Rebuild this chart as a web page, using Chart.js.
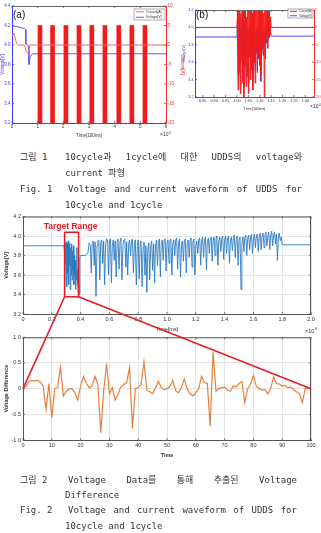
<!DOCTYPE html>
<html><head><meta charset="utf-8">
<script src="https://cdn.jsdelivr.net/npm/chart.js@4.4.0/dist/chart.umd.min.js"></script>
<style>
html,body{margin:0;padding:0;background:#fff;}
body{width:321px;height:533px;position:relative;overflow:hidden;}
canvas{position:absolute;}
.cap{position:absolute;font-family:"DejaVu Sans Mono","Noto Sans CJK KR",monospace;font-size:9px;color:#333;line-height:12px;height:12px;white-space:nowrap;}
.just{display:flex;justify-content:space-between;}
</style></head><body>
<canvas id="cA" width="185" height="140" style="left:0;top:0"></canvas>
<canvas id="cB" width="146" height="115" style="left:175px;top:0"></canvas>
<canvas id="cC" width="321" height="128" style="left:0;top:210px"></canvas>
<canvas id="cD" width="321" height="130" style="left:0;top:332px"></canvas>
<div id="caps"></div>
<canvas id="ov" width="321" height="533" style="left:0;top:0;pointer-events:none"></canvas>
<script>
// ---------------- DATA ----------------
// Fig.1 (a) : 10 cycles, time in x10^4 [100ms]
const voltATime = [0, 0.49, 0.53, 0.54, 0.64, 0.66, 0.71, 0.80, 6];
const voltAVal  = [4.20, 4.17, 4.16, 4.01, 3.99, 3.80, 3.88, 3.91, 3.91];
const curATime  = [0, 0.01, 0.07, 0.18, 0.24, 0.49, 0.55, 0.64, 0.67, 6];
const curAVal   = [2.3, 2.4, 3.0, 0.4, 0, 0, -1.7, -2.1, 0, 0];
const burstACenter = [1.09, 1.58, 2.10, 2.61, 3.11, 3.62, 4.16, 4.67, 5.18];
const burstARange  = [-20, 5];
const ticksAX = [0, 1, 2, 3, 4, 5, 6];

// Fig.1 (b) : 1 cycle
const ticksBX = [0.85, 0.9, 0.95, 1, 1.05, 1.1, 1.15, 1.2, 1.25, 1.3];
const baseBTime = [0.816, 1.0, 1.155, 1.338];
const baseBVolt = [3.89, 3.89, 3.90, 3.90];
const burstBStart = 1.0, burstBStep = 0.0025;
const burstBCur = [0, 5, -18, 5, -13, 5, -19, 4, -9, 5, -16, 5, -20, 5, -11, 5, -17, 3, -14, 5,
  -19, 5, -8, 5, -15, 5, -12, 4, -18, 5, -10, 5, -16, 5, -7, 5, -13, 5, -9, 5,
  -11, 5, -14, 5, -6, 5, -8, 4, -20, 5, -9, 5, -4, 5, -6, 5, -3, 5, -2, 3, 0];
const burstBVolt = [3.89, 4.1, 3.45, 4.05, 3.55, 4.12, 3.35, 3.98, 3.62, 4.08, 3.42, 3.95, 3.30, 4.02, 3.58, 3.97, 3.40, 3.92, 3.50, 4.0,
  3.36, 3.95, 3.66, 4.03, 3.48, 3.93, 3.55, 3.99, 3.40, 3.90, 3.60, 3.96, 3.50, 3.92, 3.70, 4.0, 3.56, 3.95, 3.65, 3.98,
  3.60, 3.94, 3.38, 3.90, 3.75, 3.97, 3.70, 3.95, 3.80, 4.0, 3.72, 3.96, 3.82, 3.98, 3.85, 4.0, 3.88, 3.97, 3.92, 3.95, 3.90];

// Fig.2 top : voltage vs time [ms] x10^4
const fig2Time = [
  0, 0.285, 0.290, 0.293, 0.296, 0.299, 0.302, 0.305, 0.308, 0.311,
  0.314, 0.317, 0.320, 0.323, 0.326, 0.329, 0.332, 0.335, 0.338, 0.341,
  0.344, 0.347, 0.350, 0.353, 0.356, 0.359, 0.362, 0.365, 0.368, 0.371,
  0.374, 0.377, 0.380, 0.383, 0.386, 0.390, 0.395, 0.400, 0.430, 0.440,
  0.450, 0.460, 0.468, 0.474, 0.480, 0.488, 0.495, 0.500, 0.507, 0.514,
  0.520, 0.527, 0.533, 0.540, 0.547, 0.553, 0.560, 0.567, 0.574, 0.580,
  0.587, 0.594, 0.600, 0.607, 0.614, 0.620, 0.627, 0.634, 0.640, 0.647,
  0.654, 0.660, 0.667, 0.674, 0.680, 0.687, 0.694, 0.700, 0.707, 0.714,
  0.720, 0.727, 0.734, 0.740, 0.747, 0.754, 0.760, 0.767, 0.774, 0.780,
  0.787, 0.794, 0.800, 0.807, 0.814, 0.820, 0.827, 0.834, 0.840, 0.847,
  0.854, 0.860, 0.867, 0.874, 0.880, 0.887, 0.894, 0.900, 0.907, 0.914,
  0.920, 0.927, 0.934, 0.940, 0.947, 0.954, 0.960, 0.967, 0.974, 0.980,
  0.987, 0.994, 1.000, 1.007, 1.014, 1.020, 1.027, 1.034, 1.040, 1.047,
  1.054, 1.060, 1.067, 1.074, 1.080, 1.087, 1.094, 1.100, 1.107, 1.114,
  1.120, 1.127, 1.134, 1.140, 1.147, 1.154, 1.160, 1.167, 1.174, 1.180,
  1.187, 1.194, 1.200, 1.207, 1.214, 1.220, 1.227, 1.234, 1.240, 1.247,
  1.254, 1.260, 1.267, 1.274, 1.280, 1.287, 1.294, 1.300, 1.307, 1.314,
  1.320, 1.327, 1.334, 1.340, 1.347, 1.354, 1.360, 1.367, 1.374, 1.380,
  1.387, 1.394, 1.400, 1.407, 1.414, 1.420, 1.427, 1.434, 1.440, 1.447,
  1.454, 1.460, 1.467, 1.474, 1.480, 1.487, 1.494, 1.500, 1.507, 1.514,
  1.520, 1.527, 1.534, 1.540, 1.547, 1.554, 1.560, 1.567, 1.574, 1.580,
  1.587, 1.594, 1.600, 1.607, 1.614, 1.620, 1.627, 1.634, 1.640, 1.647,
  1.654, 1.660, 1.667, 1.674, 1.680, 1.687, 1.694, 1.700, 1.707, 1.714,
  1.720, 1.727, 1.734, 1.740, 1.747, 1.754, 1.760, 1.767, 1.774, 1.780,
  1.787, 1.794, 1.800, 2.000];
const fig2Volt = [
  3.90, 3.90, 3.90, 3.72, 3.93, 3.55, 3.94, 3.48, 3.92, 3.62,
  3.95, 3.50, 3.90, 3.70, 3.93, 3.45, 3.88, 3.60, 3.92, 3.55,
  3.85, 3.65, 3.90, 3.50, 3.80, 3.60, 3.75, 3.45, 3.70, 3.55,
  3.88, 3.50, 3.65, 3.42, 3.60, 3.40, 3.78, 3.80, 3.80, 3.81,
  3.82, 3.93, 3.90, 3.62, 3.92, 3.95, 3.70, 3.94, 3.38, 3.90,
  3.95, 3.96, 3.55, 3.93, 3.96, 3.72, 3.95, 3.50, 3.92, 3.97,
  3.96, 3.60, 3.94, 3.97, 3.52, 3.90, 3.96, 3.75, 3.95, 3.58,
  3.93, 3.97, 3.66, 3.95, 3.98, 3.55, 3.90, 3.96, 3.97, 3.68,
  3.94, 3.60, 3.92, 3.96, 3.80, 3.95, 3.97, 3.62, 3.93, 3.96,
  3.50, 3.90, 3.96, 3.56, 3.92, 3.95, 3.48, 3.88, 3.94, 3.60,
  3.90, 3.42, 3.86, 3.93, 3.55, 3.90, 3.95, 3.65, 3.92, 3.52,
  3.90, 3.96, 3.70, 3.93, 3.97, 3.58, 3.92, 3.96, 3.75, 3.95,
  3.97, 3.64, 3.93, 3.96, 3.72, 3.95, 3.97, 3.60, 3.92, 3.96,
  3.80, 3.95, 3.98, 3.66, 3.93, 3.97, 3.58, 3.90, 3.95, 3.74,
  3.94, 3.97, 3.62, 3.92, 3.96, 3.78, 3.95, 3.98, 3.68, 3.94,
  3.97, 3.60, 3.90, 3.95, 3.82, 3.96, 3.98, 3.70, 3.95, 3.99,
  3.78, 3.96, 3.99, 3.65, 3.94, 3.98, 3.82, 3.96, 3.99, 3.74,
  3.95, 3.99, 3.80, 3.97, 4.00, 3.70, 3.95, 3.99, 3.84, 3.97,
  4.00, 3.76, 3.96, 4.00, 3.82, 3.97, 4.00, 3.72, 3.95, 3.99,
  3.85, 3.97, 4.01, 3.78, 3.96, 4.00, 3.70, 3.95, 3.99, 3.45,
  3.92, 3.99, 3.84, 3.98, 4.01, 3.80, 3.97, 4.01, 3.86, 3.98,
  4.02, 3.82, 3.97, 4.02, 3.88, 3.99, 4.02, 3.84, 3.98, 4.03,
  3.86, 3.99, 4.03, 3.88, 4.00, 4.04, 3.90, 4.00, 4.04, 3.86,
  4.00, 4.05, 3.90, 4.01, 4.04, 3.92, 4.02, 3.75, 4.00, 4.03,
  3.95, 3.99, 3.91, 3.91];
const targetX = [0.289, 0.386];
const targetY = [3.377, 4.038];

// Fig.2 bottom : voltage difference (100 samples)
const diffVal = [
  0.00, 0.04, 0.14, 0.16, 0.15, 0.16, 0.13, 0.05, -0.40, 0.10,
  -0.57, 0.00, 0.02, 0.42, -0.14, -0.05, -0.01, 0.00, -0.08, -0.22,
  0.05, 0.24, 0.10, 0.02, 0.05, 0.24, 0.08, -0.86, -0.05, 0.49,
  -0.10, 0.02, -0.22, -0.11, 0.04, 0.08, 0.12, 0.41, -0.78, 0.00,
  0.02, 0.08, 0.52, -0.03, -0.06, -0.10, 0.02, 0.14, 0.02, -0.02,
  0.00, 0.04, 0.16, -0.04, -0.08, 0.02, 0.19, 0.00, -0.10, -0.14,
  -0.08, 0.00, 0.24, 0.12, 0.10, -0.73, 0.71, -0.05, 0.00, 0.02,
  0.03, -0.03, -0.05, 0.05, 0.03, 0.10, 0.14, -0.27, 0.00, 0.08,
  0.26, 0.05, 0.00, -0.03, -0.02, -0.10, 0.00, 0.23, 0.10, 0.09,
  0.05, 0.06, 0.02, 0.03, -0.02, -0.06, -0.10, -0.27, 0.00, 0.00];

// ---------------- HELPERS ----------------
const FF = '"Liberation Sans", Arial, sans-serif';
Chart.defaults.font.family = FF;
Chart.defaults.animation = false;

const deco = {
  id: 'deco',
  afterDraw(chart, args, o) {
    const ctx = chart.ctx, a = chart.chartArea;
    ctx.save();
    if (o.box) {
      ctx.strokeStyle = o.box.color; ctx.lineWidth = 1;
      ctx.beginPath();
      if (o.box.top) { ctx.moveTo(a.left, a.top + 0.5); ctx.lineTo(a.right, a.top + 0.5); }
      if (o.box.right) { ctx.moveTo(a.right - 0.5, a.top); ctx.lineTo(a.right - 0.5, a.bottom); }
      ctx.stroke();
    }
    (o.inTicks || []).forEach(t => {
      const s = chart.scales[t.id];
      ctx.strokeStyle = t.color; ctx.lineWidth = 0.8;
      ctx.beginPath();
      s.ticks.forEach(tk => {
        const p = s.getPixelForValue(tk.value);
        t.sides.forEach(side => {
          if (side === 'bottom') { ctx.moveTo(p, a.bottom); ctx.lineTo(p, a.bottom - t.len); }
          if (side === 'top') { ctx.moveTo(p, a.top); ctx.lineTo(p, a.top + t.len); }
          if (side === 'left') { ctx.moveTo(a.left, p); ctx.lineTo(a.left + t.len, p); }
          if (side === 'right') { ctx.moveTo(a.right, p); ctx.lineTo(a.right - t.len, p); }
        });
      });
      ctx.stroke();
    });
    if (o.legend) {
      const L = o.legend;
      const x0 = a.right - L.w - L.dr, y0 = a.top + L.dt;
      ctx.fillStyle = '#fff'; ctx.fillRect(x0, y0, L.w, L.h);
      ctx.strokeStyle = '#777'; ctx.lineWidth = 0.6; ctx.strokeRect(x0, y0, L.w, L.h);
      const items = chart.data.datasets.filter(d => d.inLegend);
      items.forEach((d, i) => {
        const yy = y0 + L.h * (i + 0.5) / items.length;
        ctx.strokeStyle = d.borderColor; ctx.lineWidth = 1;
        ctx.beginPath(); ctx.moveTo(x0 + 2, yy); ctx.lineTo(x0 + 2 + L.line, yy); ctx.stroke();
        ctx.fillStyle = '#333'; ctx.font = L.size + 'px ' + FF; ctx.textBaseline = 'middle'; ctx.textAlign = 'left';
        ctx.fillText(d.label, x0 + 4 + L.line, yy);
      });
    }
    (o.texts || []).forEach(t => {
      ctx.fillStyle = t.color || '#111';
      ctx.font = (t.bold ? 'bold ' : '') + t.size + 'px ' + FF;
      ctx.textBaseline = 'middle'; ctx.textAlign = 'left';
      ctx.fillText(t.text, a.left + t.dx, a.top + t.dy);
    });
    if (o.exp) {
      const e = o.exp;
      ctx.fillStyle = '#333'; ctx.textBaseline = 'middle'; ctx.textAlign = 'left';
      ctx.font = e.size + 'px ' + FF;
      const x = a.right + e.dx, y = a.bottom + e.dy;
      ctx.fillText('\u00d710', x, y);
      const w = ctx.measureText('\u00d710').width;
      ctx.font = (e.size * 0.7) + 'px ' + FF;
      ctx.fillText('4', x + w + 0.3, y - e.size * 0.45);
    }
    if (o.target) {
      const sx = chart.scales.x, sy = chart.scales.y;
      const x0 = sx.getPixelForValue(o.target.x[0]), x1 = sx.getPixelForValue(o.target.x[1]);
      const y0 = sy.getPixelForValue(o.target.y[1]), y1 = sy.getPixelForValue(o.target.y[0]);
      ctx.strokeStyle = '#e41e26'; ctx.lineWidth = 1.6;
      ctx.strokeRect(x0, y0, x1 - x0, y1 - y0);
      ctx.fillStyle = '#e41e26'; ctx.font = 'bold 8.5px ' + FF;
      ctx.textAlign = 'center'; ctx.textBaseline = 'middle';
      ctx.fillText(o.target.label, (x0 + x1) / 2 - 1, y0 - 6);
    }
    ctx.restore();
  }
};
Chart.register(deco);

function pts(xs, ys) { return xs.map((x, i) => ({x: x, y: ys[i]})); }
function tickFont(s) { return {size: s, family: FF}; }

// ---------------- FIG 1 (a) ----------------
const chartA = new Chart(document.getElementById('cA'), {
  type: 'line',
  data: { datasets: [
    {type: 'line', label: 'Current[A]', inLegend: true, data: pts(curATime, curAVal), yAxisID: 'yR',
     borderColor: '#f26464', borderWidth: 1, pointRadius: 0, tension: 0},
    {type: 'bar', label: 'Current bursts', data: burstACenter.map(t => ({x: t, y: burstARange})), yAxisID: 'yR',
     backgroundColor: '#f01c1c', barThickness: 4, borderWidth: 0},
    {type: 'line', label: 'Voltage[V]', inLegend: true, data: pts(voltATime, voltAVal), yAxisID: 'yL',
     borderColor: '#5c5cf2', borderWidth: 1, pointRadius: 0, tension: 0}
  ]},
  options: {
    responsive: false, devicePixelRatio: 1,
    layout: {padding: {top: 6, left: 0, right: 0, bottom: 0}},
    plugins: {legend: {display: false}, tooltip: {enabled: false},
      deco: {box: {color: '#666', top: true}, legend: {w: 31, h: 11, dr: 1, dt: 3, line: 8, size: 3.4},
        texts: [{text: '(a)', dx: 1, dy: 9, size: 10, color: '#111'}],
        exp: {dx: -6, dy: 12, size: 5},
        inTicks: [{id: 'x', sides: ['bottom', 'top'], len: 2, color: '#555'},
                  {id: 'yL', sides: ['left'], len: 2, color: '#3a3aff'},
                  {id: 'yR', sides: ['right'], len: 2, color: '#f03030'}]}},
    scales: {
      x: {type: 'linear', min: 0, max: 6, offset: false,
        afterBuildTicks(s) { s.ticks = ticksAX.map(v => ({value: v})); },
        ticks: {font: tickFont(4.5), color: '#333', padding: 1.5, maxRotation: 0, autoSkip: false},
        grid: {display: false, drawTicks: false, offset: false}, border: {color: '#555'},
        title: {display: true, text: 'Time[100ms]', font: tickFont(4.5), color: '#333', padding: {top: 0, bottom: 2}},
        afterFit(s) { s.height = 17; }},
      yL: {position: 'left', min: 3.2, max: 4.4,
        ticks: {stepSize: 0.2, font: tickFont(4.5), color: '#3a3aff', padding: 1.5},
        grid: {display: false, drawTicks: false}, border: {color: '#3a3aff'},
        title: {display: true, text: 'Voltage[V]', font: tickFont(4.5), color: '#3a3aff', padding: 0},
        afterFit(s) { s.width = 12; }},
      yR: {position: 'right', min: -20, max: 10,
        ticks: {stepSize: 5, font: tickFont(4.5), color: '#f03030', padding: 1.5},
        grid: {display: false, drawTicks: false}, border: {color: '#f03030'},
        title: {display: true, text: 'Current[A]', font: tickFont(4.5), color: '#f03030', padding: 0},
        afterFit(s) { s.width = 19; }}
    }
  }
});

// ---------------- FIG 1 (b) ----------------
const bCurPts = [{x: baseBTime[0], y: 0}].concat(
  burstBCur.map((v, i) => ({x: burstBStart + i * burstBStep, y: v})),
  [{x: baseBTime[3], y: 0}]);
const bVoltPts = [{x: baseBTime[0], y: baseBVolt[0]}].concat(
  burstBVolt.map((v, i) => ({x: burstBStart + i * burstBStep, y: v})),
  [{x: baseBTime[2], y: baseBVolt[2]}, {x: baseBTime[3], y: baseBVolt[3]}]);
const chartB = new Chart(document.getElementById('cB'), {
  type: 'line',
  data: { datasets: [
    {label: 'Current[A]', inLegend: true, data: bCurPts, yAxisID: 'yR',
     borderColor: '#f01c1c', borderWidth: 1, pointRadius: 0, tension: 0},
    {label: 'Voltage[V]', inLegend: true, data: bVoltPts, yAxisID: 'yL',
     borderColor: '#4a4af2', borderWidth: 1, pointRadius: 0, tension: 0}
  ]},
  options: {
    responsive: false, devicePixelRatio: 1,
    layout: {padding: {top: 10, left: 0, right: 0, bottom: 0}},
    plugins: {legend: {display: false}, tooltip: {enabled: false},
      deco: {box: {color: '#666', top: true}, legend: {w: 25, h: 9, dr: 1, dt: -1, line: 7, size: 2.8},
        texts: [{text: '(b)', dx: 1, dy: 5, size: 10, color: '#111'}],
        exp: {dx: -4, dy: 10, size: 5},
        inTicks: [{id: 'x', sides: ['bottom', 'top'], len: 2, color: '#555'},
                  {id: 'yL', sides: ['left'], len: 2, color: '#3a3aff'},
                  {id: 'yR', sides: ['right'], len: 2, color: '#f03030'}]}},
    scales: {
      x: {type: 'linear', min: 0.816, max: 1.338,
        afterBuildTicks(s) { s.ticks = ticksBX.map(v => ({value: v})); },
        ticks: {font: tickFont(3.8), color: '#333', padding: 1.5, maxRotation: 0, autoSkip: false},
        grid: {display: false, drawTicks: false}, border: {color: '#555'},
        title: {display: true, text: 'Time[100ms]', font: tickFont(3.8), color: '#333', padding: {top: 0, bottom: 4}},
        afterFit(s) { s.height = 18; }},
      yL: {position: 'left', min: 3.2, max: 4.2,
        ticks: {stepSize: 0.2, font: tickFont(3.8), color: '#3a3aff', padding: 1.5},
        grid: {display: false, drawTicks: false}, border: {color: '#3a3aff'},
        title: {display: true, text: 'Voltage[V]', font: tickFont(3.8), color: '#3a3aff', padding: {top: 7}},
        afterFit(s) { s.width = 20; }},
      yR: {position: 'right', min: -20, max: 5,
        ticks: {stepSize: 5, font: tickFont(3.8), color: '#f03030', padding: 1},
        grid: {display: false, drawTicks: false}, border: {color: '#f03030'},
        afterFit(s) { s.width = 7; }}
    }
  }
});

// ---------------- FIG 2 top ----------------
const chartC = new Chart(document.getElementById('cC'), {
  type: 'line',
  data: { datasets: [
    {label: 'Voltage[V]', data: pts(fig2Time, fig2Volt), borderColor: '#2b7bc0', borderWidth: 0.9, pointRadius: 0, tension: 0}
  ]},
  options: {
    responsive: false, devicePixelRatio: 1,
    layout: {padding: {top: 6.5, left: 0, right: 10, bottom: 0}},
    plugins: {legend: {display: false}, tooltip: {enabled: false},
      deco: {box: {color: '#555', top: true, right: true},
        exp: {dx: -6, dy: 17, size: 5.5},
        target: {x: targetX, y: targetY, label: 'Target Range'},
        inTicks: [{id: 'x', sides: ['bottom', 'top'], len: 2, color: '#555'},
                  {id: 'y', sides: ['left', 'right'], len: 2, color: '#555'}]}},
    scales: {
      x: {type: 'linear', min: 0, max: 2,
        ticks: {stepSize: 0.2, font: tickFont(5.5), color: '#333', padding: 2, maxRotation: 0, autoSkip: false},
        grid: {color: '#e4e4e4', drawTicks: false}, border: {color: '#555'},
        title: {display: true, text: 'Time[ms]', font: tickFont(5.5), color: '#333', padding: {top: 0, bottom: 5}},
        afterFit(s) { s.height = 24; }},
      y: {min: 3.2, max: 4.2,
        ticks: {stepSize: 0.2, font: tickFont(5.5), color: '#333', padding: 2},
        grid: {color: '#e4e4e4', drawTicks: false}, border: {color: '#555'},
        title: {display: true, text: 'Voltage[V]', font: {size: 5.5, weight: 'bold', family: FF}, color: '#333', padding: {top: 3}},
        afterFit(s) { s.width = 23; }}
    }
  }
});

// ---------------- FIG 2 bottom ----------------
const chartD = new Chart(document.getElementById('cD'), {
  type: 'line',
  data: { datasets: [
    {label: 'Voltage Difference', data: diffVal.map((v, i) => ({x: i, y: v})), borderColor: '#e8803c', borderWidth: 1.2, pointRadius: 0, tension: 0}
  ]},
  options: {
    responsive: false, devicePixelRatio: 1,
    layout: {padding: {top: 5.3, left: 0, right: 10, bottom: 0}},
    plugins: {legend: {display: false}, tooltip: {enabled: false},
      deco: {box: {color: '#555', top: true, right: true},
        inTicks: [{id: 'x', sides: ['bottom', 'top'], len: 2, color: '#555'},
                  {id: 'y', sides: ['left', 'right'], len: 2, color: '#555'}]}},
    scales: {
      x: {type: 'linear', min: 0, max: 100,
        ticks: {stepSize: 10, font: tickFont(5.5), color: '#333', padding: 2, maxRotation: 0, autoSkip: false},
        grid: {color: '#e4e4e4', drawTicks: false}, border: {color: '#555'},
        title: {display: true, text: 'Time', font: {size: 5.5, weight: 'bold', family: FF}, color: '#333', padding: {top: 0, bottom: 3}},
        afterFit(s) { s.height = 22; }},
      y: {min: -1, max: 1,
        ticks: {stepSize: 0.5, font: tickFont(5.5), color: '#333', padding: 2},
        grid: {color: '#e4e4e4', drawTicks: false}, border: {color: '#555'},
        title: {display: true, text: 'Voltage Difference', font: {size: 5.5, weight: 'bold', family: FF}, color: '#333', padding: {top: 3}},
        afterFit(s) { s.width = 23; }}
    }
  }
});

// ---------------- connector lines (overlay) ----------------
(function () {
  const o = document.getElementById('ov').getContext('2d');
  const cC = {l: 0, t: 210}, cD = {l: 0, t: 332};
  const sx = chartC.scales.x, sy = chartC.scales.y;
  const bl = [sx.getPixelForValue(targetX[0]) + cC.l, sy.getPixelForValue(targetY[0]) + cC.t];
  const br = [sx.getPixelForValue(targetX[1]) + cC.l, sy.getPixelForValue(targetY[0]) + cC.t];
  const dx = chartD.scales.x, dy = chartD.scales.y;
  const dl = [dx.getPixelForValue(0) + cD.l, dy.getPixelForValue(0) + cD.t];
  const dr = [dx.getPixelForValue(100) + cD.l, dy.getPixelForValue(0) + cD.t];
  o.strokeStyle = '#e41e26'; o.lineWidth = 1.6;
  o.beginPath(); o.moveTo(bl[0], bl[1]); o.lineTo(dl[0], dl[1]);
  o.moveTo(br[0], br[1]); o.lineTo(dr[0], dr[1]); o.stroke();
})();

// ---------------- captions ----------------
const captions = [
  {y: 157, label: '그림 1', body: '10cycle과 1cycle에 대한 UDDS의 voltage와', x0: 65, x1: 302},
  {y: 173, body: 'current 파형', x0: 65},
  {y: 189, label: 'Fig. 1', body: 'Voltage and current waveform of UDDS for', x0: 68, x1: 302},
  {y: 205, body: '10cycle and 1cycle', x0: 65},
  {y: 480, label: '그림 2', body: 'Voltage Data를 통해 추출된 Voltage', x0: 68, x1: 297},
  {y: 495, body: 'Difference', x0: 65},
  {y: 510, label: 'Fig. 2', body: 'Voltage and current waveform of UDDS for', x0: 68, x1: 297},
  {y: 526, body: '10cycle and 1cycle', x0: 65}
];
const capsEl = document.getElementById('caps');
captions.forEach(c => {
  if (c.label) {
    const d = document.createElement('div');
    d.className = 'cap'; d.style.left = '20px'; d.style.top = (c.y - 6) + 'px';
    d.textContent = c.label; capsEl.appendChild(d);
  }
  const b = document.createElement('div');
  b.className = 'cap' + (c.x1 ? ' just' : '');
  b.style.left = c.x0 + 'px'; b.style.top = (c.y - 6) + 'px';
  if (c.x1) {
    b.style.width = (c.x1 - c.x0) + 'px';
    c.body.split(' ').forEach(w => { const s = document.createElement('span'); s.textContent = w; b.appendChild(s); });
  } else {
    b.textContent = c.body;
  }
  capsEl.appendChild(b);
});
</script>
</body></html>
